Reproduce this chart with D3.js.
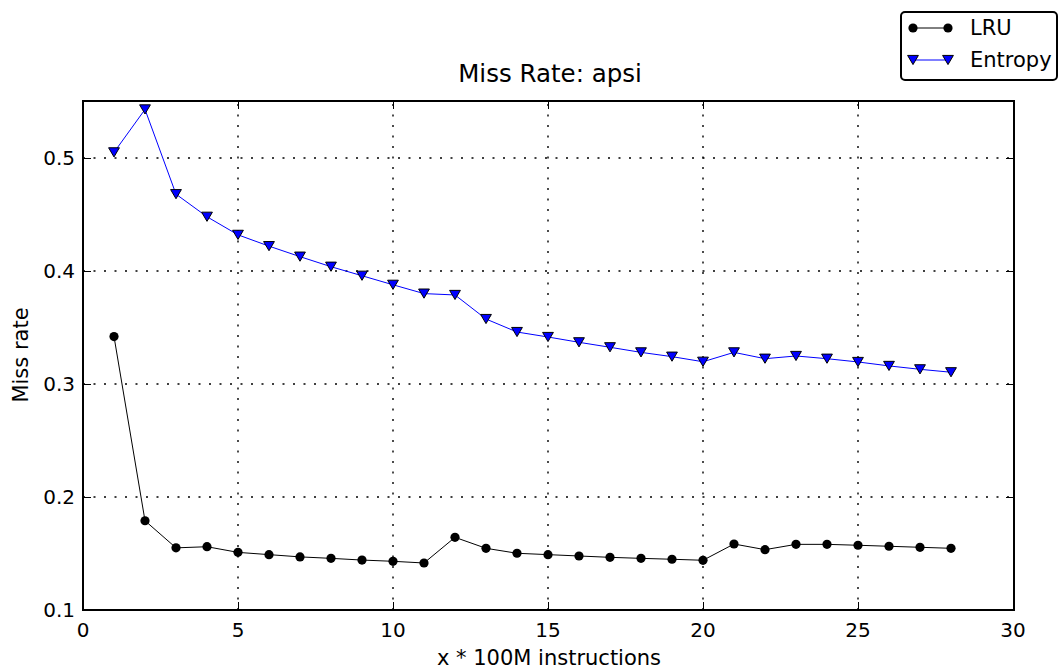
<!DOCTYPE html>
<html>
<head>
<meta charset="utf-8">
<script src="https://cdn.jsdelivr.net/npm/d3@7"></script>
<style>
  html, body { margin: 0; padding: 0; background: #fff; }
  svg { display: block; font-family: "DejaVu Sans", sans-serif; }
</style>
</head>
<body>
<svg id="chart" width="1062" height="669"></svg>
<script>
// Sampling points (x * 100M instructions)
const steps = [1,2,3,4,5,6,7,8,9,10,11,12,13,14,15,16,17,18,19,20,21,22,23,24,25,26,27,28];

// Miss rate per policy
const lruRate = [0.342,0.179,0.155,0.156,0.151,0.149,0.147,0.1457,0.1442,0.1431,0.1416,0.1643,0.1546,0.1502,0.149,0.1478,0.1466,0.1457,0.1449,0.144,0.1584,0.1534,0.1581,0.1581,0.1573,0.1564,0.1555,0.1546];
const entropyRate = [0.505,0.543,0.468,0.448,0.432,0.422,0.4127,0.4038,0.3958,0.3878,0.380,0.3788,0.3575,0.346,0.3416,0.3369,0.3325,0.328,0.3242,0.3197,0.328,0.3224,0.3248,0.3224,0.3195,0.316,0.313,0.3104];

const xTicks = [0,5,10,15,20,25,30];
const yTicks = [0.1,0.2,0.3,0.4,0.5];

const svg = d3.select("#chart");
const plotL = 83, plotR = 1014, plotT = 101, plotB = 610;

const x = d3.scaleLinear().domain([0, 30]).range([plotL, plotR - 1]);
const y = d3.scaleLinear().domain([0.1, 0.55]).range([plotB, plotT + 0.5]);

// Dotted grid
const grid = svg.append("g");
grid.selectAll("line.gx").data(xTicks.slice(1, -1)).join("line")
  .attr("class", "gx")
  .attr("x1", d => x(d)).attr("x2", d => x(d))
  .attr("y1", plotB).attr("y2", plotT)
  .attr("stroke", "#000").attr("stroke-width", 1.4).attr("stroke-dasharray", "2,8.5");
grid.selectAll("line.gy").data(yTicks.slice(1)).join("line")
  .attr("class", "gy")
  .attr("x1", plotL).attr("x2", plotR)
  .attr("y1", d => y(d)).attr("y2", d => y(d))
  .attr("stroke", "#000").attr("stroke-width", 1.4).attr("stroke-dasharray", "2,8.5");

// Axes with inward ticks on all four sides
const axisFont = 20;
const xAxis = svg.append("g").attr("transform", `translate(0,${plotB})`)
  .call(d3.axisTop(x).tickValues(xTicks).tickSize(8).tickFormat(""));
const xAxisTop = svg.append("g").attr("transform", `translate(0,${plotT})`)
  .call(d3.axisBottom(x).tickValues(xTicks).tickSize(8).tickFormat(""));
const yAxis = svg.append("g").attr("transform", `translate(${plotL},0)`)
  .call(d3.axisRight(y).tickValues(yTicks).tickSize(8).tickFormat(""));
const yAxisR = svg.append("g").attr("transform", `translate(${plotR},0)`)
  .call(d3.axisLeft(y).tickValues(yTicks).tickSize(8).tickFormat(""));
[xAxis, xAxisTop, yAxis, yAxisR].forEach(g => {
  g.select(".domain").remove();
  g.selectAll(".tick line").attr("stroke", "#000").attr("stroke-width", 1);
});

// Tick labels
svg.append("g").selectAll("text").data(xTicks).join("text")
  .attr("x", d => x(d)).attr("y", 637)
  .attr("text-anchor", "middle").attr("font-size", axisFont).text(d => d);
svg.append("g").selectAll("text").data(yTicks).join("text")
  .attr("x", 75).attr("y", d => y(d) + 7)
  .attr("text-anchor", "end").attr("font-size", axisFont).text(d => d.toFixed(1));

// Frame
svg.append("rect").attr("x", plotL).attr("y", plotT)
  .attr("width", plotR - plotL).attr("height", plotB - plotT)
  .attr("fill", "none").attr("stroke", "#000").attr("stroke-width", 2);

// Series
const lineGen = vals => d3.line().x((d, i) => x(steps[i])).y(d => y(d))(vals);

svg.append("path").attr("d", lineGen(lruRate))
  .attr("fill", "none").attr("stroke", "#000").attr("stroke-width", 1);
svg.append("path").attr("d", lineGen(entropyRate))
  .attr("fill", "none").attr("stroke", "#0000ff").attr("stroke-width", 1);

svg.append("g").selectAll("circle").data(lruRate).join("circle")
  .attr("cx", (d, i) => x(steps[i])).attr("cy", d => y(d)).attr("r", 4.6)
  .attr("fill", "#000");

const tri = (cx, cy, s) => `M${cx - s},${cy - s * 0.85}L${cx + s},${cy - s * 0.85}L${cx},${cy + s * 0.85}Z`;
svg.append("g").selectAll("path").data(entropyRate).join("path")
  .attr("d", (d, i) => tri(x(steps[i]), y(d), 5.4))
  .attr("fill", "#0000ff").attr("stroke", "#000").attr("stroke-width", 1);

// Title and axis labels
svg.append("text").attr("x", 550).attr("y", 82).attr("text-anchor", "middle")
  .attr("font-size", 24.5).text("Miss Rate: apsi");
svg.append("text").attr("x", 549).attr("y", 665).attr("text-anchor", "middle")
  .attr("font-size", 21).text("x * 100M instructions");
svg.append("text").attr("transform", "translate(28,355) rotate(-90)")
  .attr("text-anchor", "middle").attr("font-size", 21).text("Miss rate");

// Legend
const legend = svg.append("g");
legend.append("rect").attr("x", 901).attr("y", 12).attr("width", 156).attr("height", 68)
  .attr("rx", 4).attr("fill", "#fff").attr("stroke", "#000").attr("stroke-width", 2);
const entries = [
  { name: "LRU", color: "#000", mark: "circle", yy: 28, base: 35 },
  { name: "Entropy", color: "#0000ff", mark: "tri", yy: 60, base: 67 }
];
entries.forEach(e => {
  legend.append("line").attr("x1", 913).attr("x2", 948).attr("y1", e.yy).attr("y2", e.yy)
    .attr("stroke", e.color).attr("stroke-width", 1);
  [913, 948].forEach(cx => {
    if (e.mark === "circle") {
      legend.append("circle").attr("cx", cx).attr("cy", e.yy).attr("r", 4.6).attr("fill", "#000");
    } else {
      legend.append("path").attr("d", tri(cx, e.yy, 5.4))
        .attr("fill", "#0000ff").attr("stroke", "#000").attr("stroke-width", 1);
    }
  });
  legend.append("text").attr("x", 970).attr("y", e.base).attr("font-size", 21).text(e.name);
});
</script>
</body>
</html>
